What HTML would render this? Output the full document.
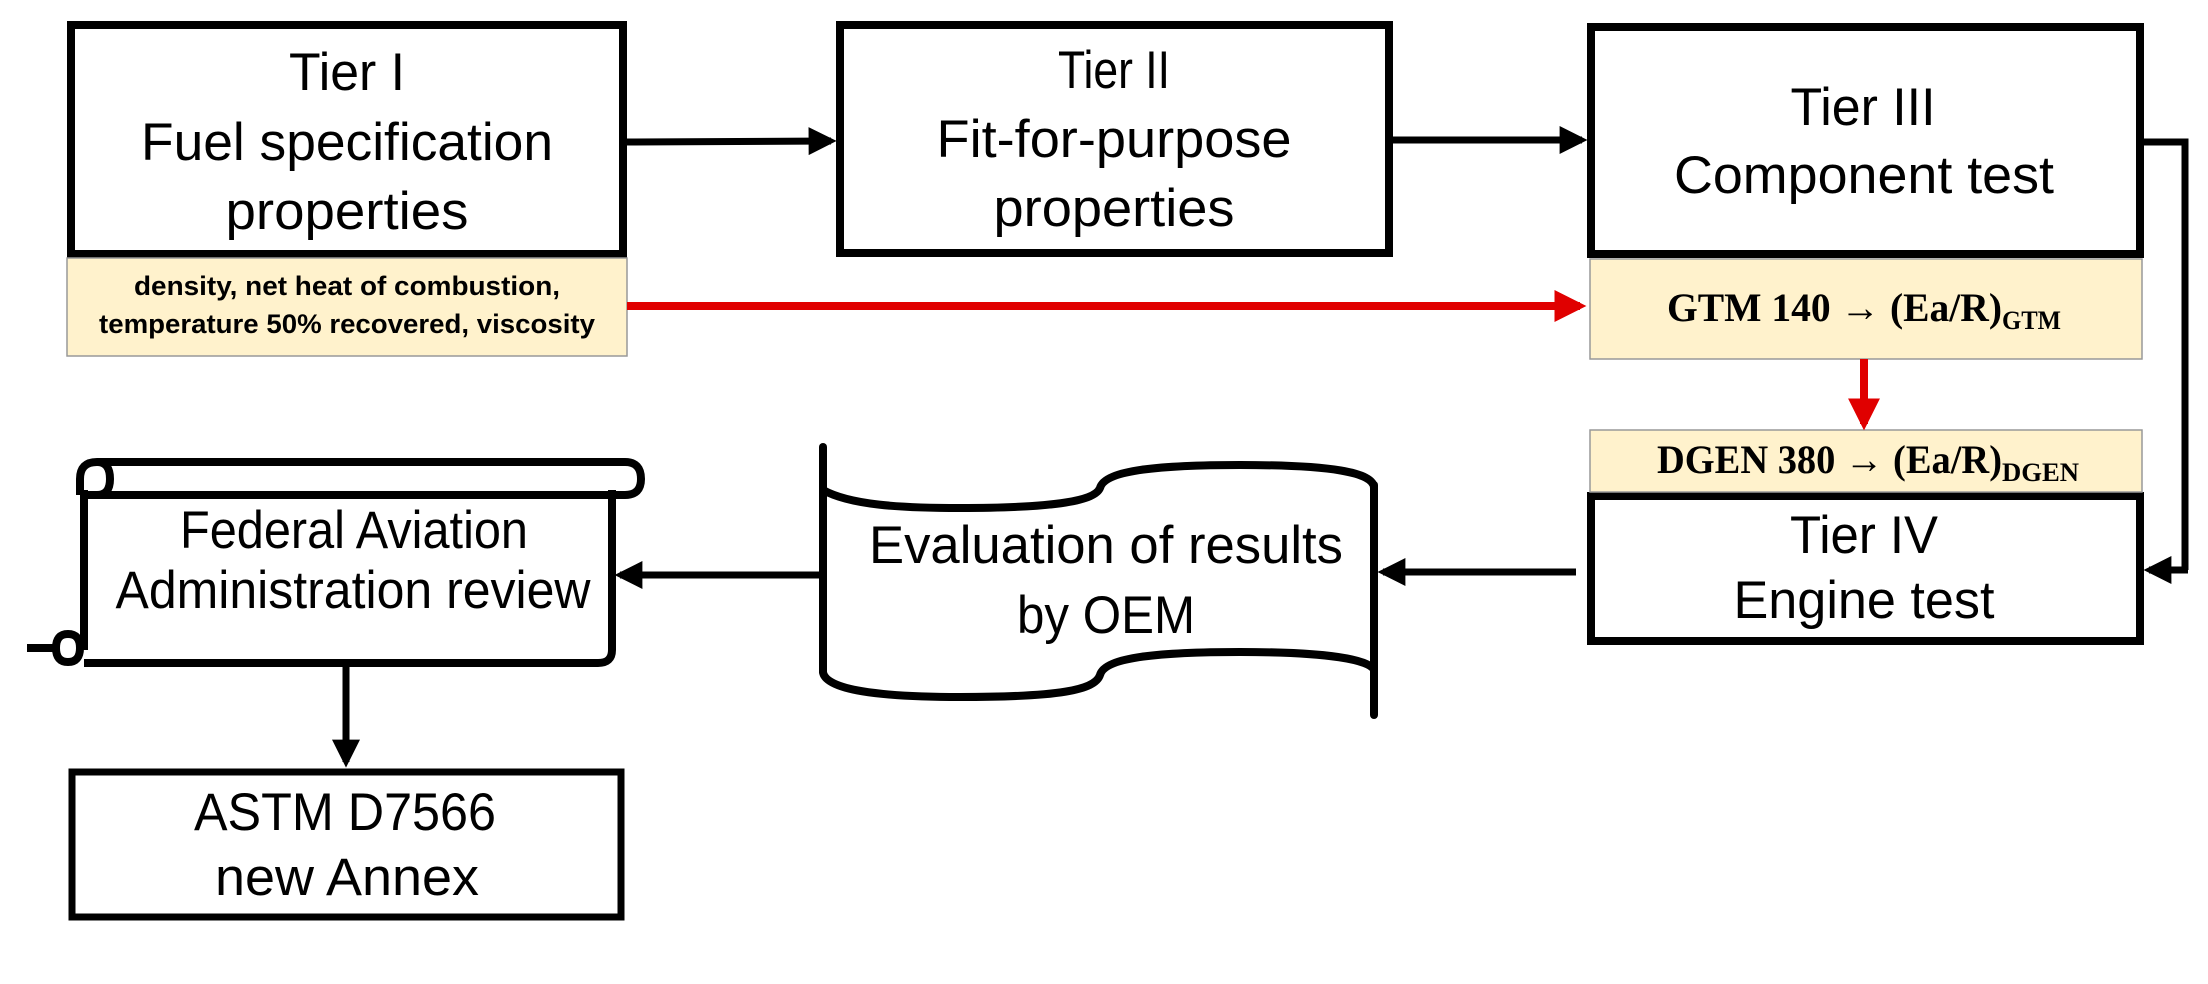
<!DOCTYPE html>
<html><head><meta charset="utf-8"><style>
html,body{margin:0;padding:0;background:#fff;}
svg{display:block;}
text{font-family:"Liberation Sans",sans-serif;fill:#000;}
.t{font-size:53px;}
.y{font-size:27px;font-weight:bold;}
.s{font-family:"Liberation Serif",serif;font-weight:bold;font-size:40px;}
</style></head><body>
<svg width="2208" height="984" viewBox="0 0 2208 984" xmlns="http://www.w3.org/2000/svg">
<defs>
<marker id="ab" markerWidth="4" markerHeight="4" refX="3.2" refY="2" orient="auto" markerUnits="strokeWidth"><path d="M0,0 L4,2 L0,4 z" fill="#000"/></marker>
<marker id="ar" markerWidth="4" markerHeight="4" refX="3.2" refY="2" orient="auto" markerUnits="strokeWidth"><path d="M0,0 L4,2 L0,4 z" fill="#e00000"/></marker>
</defs>
<g fill="#fff" stroke="#000" stroke-width="8">
<rect x="71" y="25" width="552" height="229"/>
<rect x="840" y="25" width="549" height="228"/>
<rect x="1591" y="27" width="549" height="227"/>
<rect x="1591" y="496" width="549" height="145"/>
<rect x="72" y="772" width="549" height="145" stroke-width="7"/>
</g>
<g fill="#fff2cc" stroke="#999" stroke-width="1.5">
<rect x="67" y="258" width="560" height="98"/>
<rect x="1590" y="259" width="552" height="100"/>
<rect x="1590" y="430" width="552" height="62"/>
</g>
<g stroke="#000" stroke-width="7" fill="none">
<line x1="627" y1="142" x2="831" y2="141" marker-end="url(#ab)"/>
<line x1="1393" y1="140" x2="1582" y2="140" marker-end="url(#ab)"/>
<polyline points="2144,142 2185,142 2185,570"/>
<line x1="2188" y1="570" x2="2149" y2="570" marker-end="url(#ab)"/>
<line x1="1576" y1="572" x2="1383" y2="572" marker-end="url(#ab)"/>
<line x1="822" y1="575" x2="620" y2="575" marker-end="url(#ab)"/>
<line x1="346" y1="663" x2="346" y2="762" marker-end="url(#ab)"/>
</g>
<g stroke="#e00000" stroke-width="8" fill="none">
<line x1="627" y1="306" x2="1580" y2="306" marker-end="url(#ar)"/>
<line x1="1864" y1="359" x2="1864" y2="424" marker-end="url(#ar)"/>
</g>
<g stroke="#000" stroke-width="8" fill="none" stroke-linecap="round">
<line x1="823" y1="447" x2="823" y2="672"/>
<line x1="1374" y1="485" x2="1374" y2="715"/>
<path d="M823,490 C850,505 900,508 960,508 C1060,508 1095,500 1100,488 C1105,470 1160,465 1240,465 C1330,465 1374,472 1374,488"/>
<path d="M823,672 C825,690 880,697 960,697 C1060,697 1095,690 1100,675 C1105,657 1160,652 1240,652 C1330,652 1370,660 1374,670"/>
</g>
<g stroke="#000" stroke-width="8" fill="none">
<path d="M84,490 L84,650 M612,490 L612,650 Q612,663 598,663 L84,663"/>
<path d="M97,462 L625,462 Q641,462 641,479 Q641,495 625,495 L97,495"/>
<path d="M97,462 Q80,462 80,479 L80,495 M97,462 Q110,462 110,479 Q110,495 97,495 L84,495"/>
<path d="M27,648 L56,648 M68,634 Q56,634 56,648 Q56,662 68,662 Q80,662 80,648 Q80,634 68,634"/>
</g>
<g class="t" text-anchor="middle">
<text x="347" y="90" textLength="116" lengthAdjust="spacingAndGlyphs">Tier I</text>
<text x="347" y="160" textLength="412" lengthAdjust="spacingAndGlyphs">Fuel specification</text>
<text x="347" y="229" textLength="243" lengthAdjust="spacingAndGlyphs">properties</text>
<text x="1114" y="88" textLength="112" lengthAdjust="spacingAndGlyphs">Tier II</text>
<text x="1114" y="157" textLength="355" lengthAdjust="spacingAndGlyphs">Fit-for-purpose</text>
<text x="1114" y="226" textLength="241" lengthAdjust="spacingAndGlyphs">properties</text>
<text x="1863" y="125" textLength="145" lengthAdjust="spacingAndGlyphs">Tier III</text>
<text x="1864" y="193" textLength="380" lengthAdjust="spacingAndGlyphs">Component test</text>
<text x="1864" y="553" textLength="148" lengthAdjust="spacingAndGlyphs">Tier IV</text>
<text x="1864" y="618" textLength="261" lengthAdjust="spacingAndGlyphs">Engine test</text>
<text x="1106" y="563" textLength="474" lengthAdjust="spacingAndGlyphs">Evaluation of results</text>
<text x="1106" y="633" textLength="178" lengthAdjust="spacingAndGlyphs">by OEM</text>
<text x="354" y="548" textLength="348" lengthAdjust="spacingAndGlyphs">Federal Aviation</text>
<text x="353" y="608" textLength="475" lengthAdjust="spacingAndGlyphs">Administration review</text>
<text x="345" y="830" textLength="302" lengthAdjust="spacingAndGlyphs">ASTM D7566</text>
<text x="347" y="895" textLength="264" lengthAdjust="spacingAndGlyphs">new Annex</text>
</g>
<g class="y" text-anchor="middle">
<text x="347" y="295" textLength="426" lengthAdjust="spacingAndGlyphs">density, net heat of combustion,</text>
<text x="347" y="333" textLength="496" lengthAdjust="spacingAndGlyphs">temperature 50% recovered, viscosity</text>
</g>
<text class="s" x="1667" y="321" textLength="335" lengthAdjust="spacingAndGlyphs">GTM 140 → (Ea/R)</text>
<text class="s" x="2002" y="329" style="font-size:26px" textLength="59" lengthAdjust="spacingAndGlyphs">GTM</text>
<text class="s" x="1657" y="473" textLength="345" lengthAdjust="spacingAndGlyphs">DGEN 380 → (Ea/R)</text>
<text class="s" x="2002" y="481" style="font-size:26px" textLength="77" lengthAdjust="spacingAndGlyphs">DGEN</text>
</svg>
</body></html>
